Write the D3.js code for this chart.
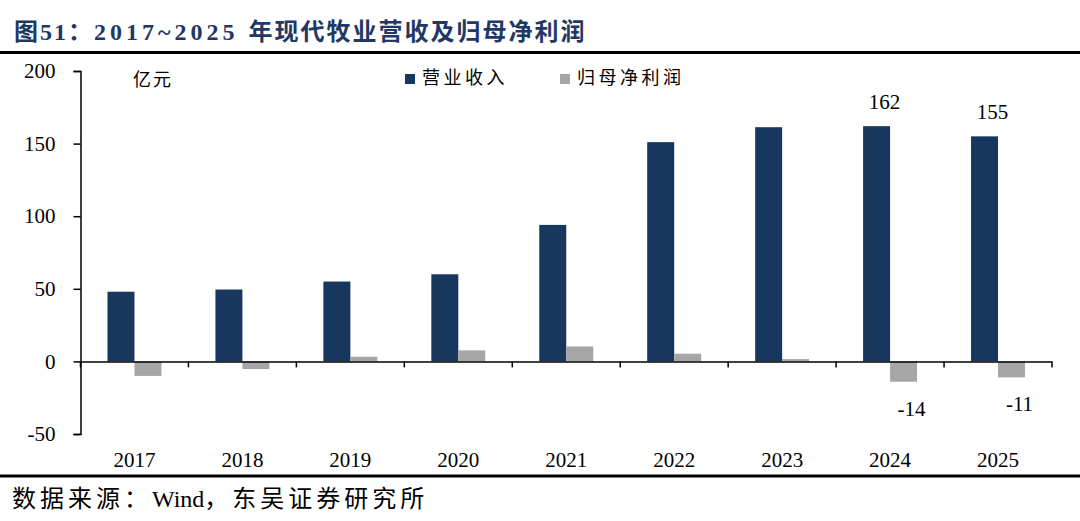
<!DOCTYPE html>
<html>
<head>
<meta charset="utf-8">
<script src="https://cdn.jsdelivr.net/npm/d3@7"></script>
<style>
  body { margin: 0; background: #fff; }
  text { font-family: "Liberation Serif", "Noto Sans CJK SC", serif; }
</style>
</head>
<body>
<div id="chart"></div>
<script>
// data (亿元)
const years = ["2017", "2018", "2019", "2020", "2021", "2022", "2023", "2024", "2025"];
const revenue = [48, 49.5, 55, 60, 94, 151, 161.3, 162, 155];
const netProfit = [-10, -5.3, 3.2, 7.6, 10.3, 5.3, 1.6, -14, -11];
const seriesNames = ["营业收入", "归母净利润"];
const yTicks = [-50, 0, 50, 100, 150, 200];
const labeled = { "2024": true, "2025": true };

const width = 1080, height = 521;
const margin = { top: 71, right: 28, bottom: 87, left: 80.5 };
const colors = ["#17375e", "#a6a6a6"];

const svg = d3.select("#chart").append("svg")
    .attr("width", width)
    .attr("height", height);

// title + rules
const title = svg.append("text")
    .attr("x", 14)
    .attr("y", 40)
    .attr("fill", "#1f3864")
    .attr("font-size", 24)
    .attr("font-weight", "bold");
title.append("tspan").style("letter-spacing", "2px").text("图51：");
title.append("tspan").style("letter-spacing", "4px").text("2017~2025 ");
title.append("tspan").style("letter-spacing", "2px").text("年现代牧业营收及归母净利润");

svg.append("line")
    .attr("x1", 0).attr("x2", width)
    .attr("y1", 52.5).attr("y2", 52.5)
    .attr("stroke", "#000").attr("stroke-width", 3);

svg.append("line")
    .attr("x1", 0).attr("x2", width)
    .attr("y1", 476).attr("y2", 476)
    .attr("stroke", "#000").attr("stroke-width", 3);

const source = svg.append("text")
    .attr("x", 12)
    .attr("y", 507)
    .attr("font-size", 24);
source.append("tspan").style("letter-spacing", "4px").text("数据来源：");
source.append("tspan").style("letter-spacing", "0px").text("Wind");
source.append("tspan").style("letter-spacing", "4px").text("，东吴证券研究所");

// scales
const x = d3.scaleBand()
    .domain(years)
    .range([margin.left, width - margin.right]);

const y = d3.scaleLinear()
    .domain([-50, 200])
    .range([height - margin.bottom, margin.top]);

const barW = x.bandwidth() / 4;

// y axis (ticks from d3, labels drawn as plain serif text)
const yAxis = svg.append("g")
    .attr("transform", `translate(${margin.left},0)`)
    .call(d3.axisLeft(y).tickValues(yTicks).tickSize(7).tickFormat(""));
yAxis.select(".domain").attr("stroke", "#000").attr("stroke-width", 1.5);
yAxis.selectAll(".tick line").attr("stroke", "#000").attr("stroke-width", 1.5);

svg.append("g")
  .selectAll("text")
  .data(yTicks)
  .join("text")
    .attr("x", margin.left - 25)
    .attr("y", d => y(d))
    .attr("dy", "0.34em")
    .attr("text-anchor", "end")
    .attr("font-size", 21)
    .text(d => String(d));

// bars
const groups = svg.append("g")
  .selectAll("g")
  .data(years)
  .join("g")
    .attr("transform", d => `translate(${x(d) + x.bandwidth() / 4},0)`);

groups.append("rect")
    .attr("x", 0)
    .attr("width", barW)
    .attr("y", (d, i) => y(revenue[i]))
    .attr("height", (d, i) => y(0) - y(revenue[i]))
    .attr("fill", colors[0]);

groups.append("rect")
    .attr("x", barW)
    .attr("width", barW)
    .attr("y", (d, i) => y(Math.max(0, netProfit[i])))
    .attr("height", (d, i) => Math.abs(y(netProfit[i]) - y(0)))
    .attr("fill", colors[1]);

// value labels
groups.filter(d => labeled[d]).each(function(d) {
  const i = years.indexOf(d);
  const g = d3.select(this);
  g.append("text")
      .attr("x", barW / 2 + 8)
      .attr("y", y(revenue[i]) - 17)
      .attr("text-anchor", "middle")
      .attr("font-size", 21)
      .text(revenue[i]);
  g.append("text")
      .attr("x", barW * 1.5 + 8)
      .attr("y", y(netProfit[i]) + 34)
      .attr("text-anchor", "middle")
      .attr("font-size", 21)
      .text(netProfit[i]);
});

// x axis on zero line
const xAxis = svg.append("g")
    .attr("transform", `translate(0,${y(0)})`)
    .call(d3.axisBottom(x).tickSize(0).tickFormat(""));
xAxis.select(".domain").attr("stroke", "#000").attr("stroke-width", 1.5);

svg.append("g")
  .selectAll("line")
  .data(years.concat(["end"]))
  .join("line")
    .attr("x1", (d, i) => margin.left + i * x.step())
    .attr("x2", (d, i) => margin.left + i * x.step())
    .attr("y1", y(0))
    .attr("y2", y(0) + 6)
    .attr("stroke", "#000")
    .attr("stroke-width", 1.5);

svg.append("g")
  .selectAll("text")
  .data(years)
  .join("text")
    .attr("x", d => x(d) + x.bandwidth() / 2)
    .attr("y", 467)
    .attr("text-anchor", "middle")
    .attr("font-size", 21)
    .text(d => d);

// unit
svg.append("text")
    .attr("x", 133)
    .attr("y", 86)
    .attr("font-size", 18)
    .style("letter-spacing", "2px")
    .text("亿元");

// legend
const legend = svg.append("g")
  .selectAll("g")
  .data(seriesNames)
  .join("g")
    .attr("transform", (d, i) => `translate(${405 + i * 155},74)`);

legend.append("rect")
    .attr("width", 10)
    .attr("height", 10)
    .attr("fill", (d, i) => colors[i]);

legend.append("text")
    .attr("x", 17)
    .attr("y", 10)
    .attr("font-size", 18)
    .style("letter-spacing", "3.5px")
    .text(d => d);
</script>
</body>
</html>
